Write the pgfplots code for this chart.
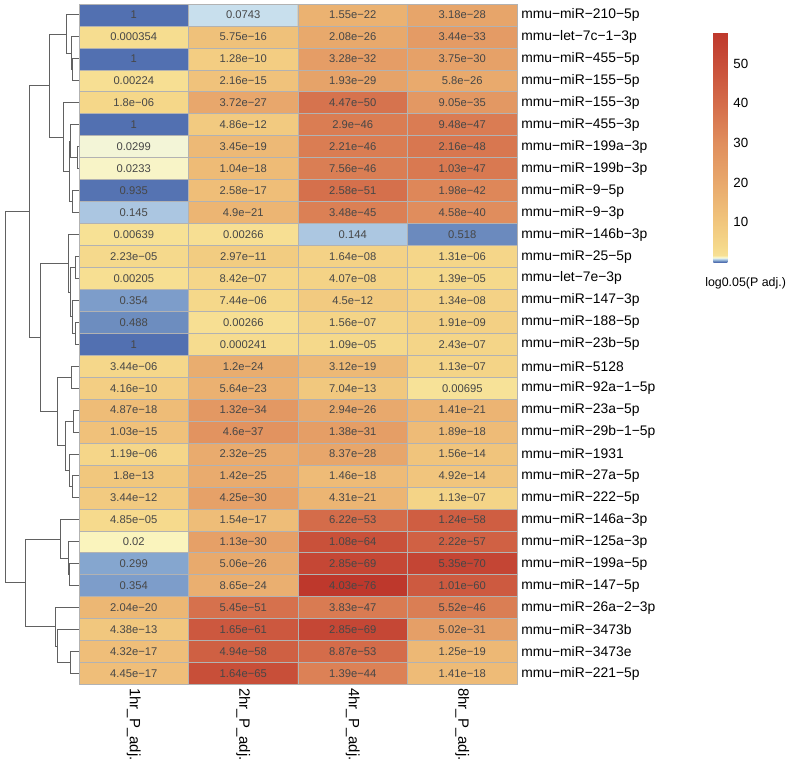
\documentclass[border=0pt]{standalone}
\usepackage{pgfplots}
\usepackage{pgfplotstable}
\pgfplotsset{compat=1.18}
\usepackage{fontspec}
\setmainfont{Liberation Sans}

\pgfplotstableread{
x y p lbl
0 0 1 1
1 0 0.0743 0.0743
2 0 1.55e-22 1.55e−22
3 0 3.18e-28 3.18e−28
0 1 0.000354 0.000354
1 1 5.75e-16 5.75e−16
2 1 2.08e-26 2.08e−26
3 1 3.44e-33 3.44e−33
0 2 1 1
1 2 1.28e-10 1.28e−10
2 2 3.28e-32 3.28e−32
3 2 3.75e-30 3.75e−30
0 3 0.00224 0.00224
1 3 2.16e-15 2.16e−15
2 3 1.93e-29 1.93e−29
3 3 5.8e-26 5.8e−26
0 4 1.8e-06 1.8e−06
1 4 3.72e-27 3.72e−27
2 4 4.47e-50 4.47e−50
3 4 9.05e-35 9.05e−35
0 5 1 1
1 5 4.86e-12 4.86e−12
2 5 2.9e-46 2.9e−46
3 5 9.48e-47 9.48e−47
0 6 0.0299 0.0299
1 6 3.45e-19 3.45e−19
2 6 2.21e-46 2.21e−46
3 6 2.16e-48 2.16e−48
0 7 0.0233 0.0233
1 7 1.04e-18 1.04e−18
2 7 7.56e-46 7.56e−46
3 7 1.03e-47 1.03e−47
0 8 0.935 0.935
1 8 2.58e-17 2.58e−17
2 8 2.58e-51 2.58e−51
3 8 1.98e-42 1.98e−42
0 9 0.145 0.145
1 9 4.9e-21 4.9e−21
2 9 3.48e-45 3.48e−45
3 9 4.58e-40 4.58e−40
0 10 0.00639 0.00639
1 10 0.00266 0.00266
2 10 0.144 0.144
3 10 0.518 0.518
0 11 2.23e-05 2.23e−05
1 11 2.97e-11 2.97e−11
2 11 1.64e-08 1.64e−08
3 11 1.31e-06 1.31e−06
0 12 0.00205 0.00205
1 12 8.42e-07 8.42e−07
2 12 4.07e-08 4.07e−08
3 12 1.39e-05 1.39e−05
0 13 0.354 0.354
1 13 7.44e-06 7.44e−06
2 13 4.5e-12 4.5e−12
3 13 1.34e-08 1.34e−08
0 14 0.488 0.488
1 14 0.00266 0.00266
2 14 1.56e-07 1.56e−07
3 14 1.91e-09 1.91e−09
0 15 1 1
1 15 0.000241 0.000241
2 15 1.09e-05 1.09e−05
3 15 2.43e-07 2.43e−07
0 16 3.44e-06 3.44e−06
1 16 1.2e-24 1.2e−24
2 16 3.12e-19 3.12e−19
3 16 1.13e-07 1.13e−07
0 17 4.16e-10 4.16e−10
1 17 5.64e-23 5.64e−23
2 17 7.04e-13 7.04e−13
3 17 0.00695 0.00695
0 18 4.87e-18 4.87e−18
1 18 1.32e-34 1.32e−34
2 18 2.94e-26 2.94e−26
3 18 1.41e-21 1.41e−21
0 19 1.03e-15 1.03e−15
1 19 4.6e-37 4.6e−37
2 19 1.38e-31 1.38e−31
3 19 1.89e-18 1.89e−18
0 20 1.19e-06 1.19e−06
1 20 2.32e-25 2.32e−25
2 20 8.37e-28 8.37e−28
3 20 1.56e-14 1.56e−14
0 21 1.8e-13 1.8e−13
1 21 1.42e-25 1.42e−25
2 21 1.46e-18 1.46e−18
3 21 4.92e-14 4.92e−14
0 22 3.44e-12 3.44e−12
1 22 4.25e-30 4.25e−30
2 22 4.31e-21 4.31e−21
3 22 1.13e-07 1.13e−07
0 23 4.85e-05 4.85e−05
1 23 1.54e-17 1.54e−17
2 23 6.22e-53 6.22e−53
3 23 1.24e-58 1.24e−58
0 24 0.02 0.02
1 24 1.13e-30 1.13e−30
2 24 1.08e-64 1.08e−64
3 24 2.22e-57 2.22e−57
0 25 0.299 0.299
1 25 5.06e-26 5.06e−26
2 25 2.85e-69 2.85e−69
3 25 5.35e-70 5.35e−70
0 26 0.354 0.354
1 26 8.65e-24 8.65e−24
2 26 4.03e-76 4.03e−76
3 26 1.01e-60 1.01e−60
0 27 2.04e-20 2.04e−20
1 27 5.45e-51 5.45e−51
2 27 3.83e-47 3.83e−47
3 27 5.52e-46 5.52e−46
0 28 4.38e-13 4.38e−13
1 28 1.65e-61 1.65e−61
2 28 2.85e-69 2.85e−69
3 28 5.02e-31 5.02e−31
0 29 4.32e-17 4.32e−17
1 29 4.94e-58 4.94e−58
2 29 8.87e-53 8.87e−53
3 29 1.25e-19 1.25e−19
0 30 4.45e-17 4.45e−17
1 30 1.64e-65 1.64e−65
2 30 1.39e-44 1.39e−44
3 30 1.41e-18 1.41e−18
}\cells

\pgfplotsset{
  colormap={pval}{
    rgb255(0pt)=(82,112,177);
    rgb255(0.25pt)=(110,142,192);
    rgb255(0.4pt)=(133,166,207);
    rgb255(0.65pt)=(172,199,225);
    rgb255(0.87pt)=(200,223,237);
    rgb255(1pt)=(230,240,228);
    rgb255(1.17pt)=(243,245,215);
    rgb255(1.3pt)=(250,244,190);
    rgb255(1.7pt)=(247,224,148);
    rgb255(4pt)=(245,216,138);
    rgb255(10pt)=(241,198,125);
    rgb255(20pt)=(232,168,108);
    rgb255(30pt)=(224,142,93);
    rgb255(40pt)=(212,108,74);
    rgb255(50pt)=(200,78,57);
    rgb255(57.95pt)=(190,56,44)
  }
}

\begin{document}
\begin{tikzpicture}
\useasboundingbox (0,0) rectangle (590.25pt,573.75pt);
% dendrogram
\begin{axis}[
  at={(0pt,60.375pt)}, anchor=south west,
  width=59.25pt, height=510.375pt, scale only axis,
  xmin=0, xmax=79, ymin=-0.5, ymax=30.5, y dir=reverse,
  hide axis, clip=false, unbounded coords=jump,
]
\addplot[black!62, line width=0.75pt] coordinates {
(79,2) (72.7,2) (72.7,3) (79,3) (nan,nan)
(79,1) (71.7,1) (71.7,2.5) (72.7,2.5) (nan,nan)
(79,0) (66.7,0) (66.7,1.75) (71.7,1.75) (nan,nan)
(79,6) (77.7,6) (77.7,7) (79,7) (nan,nan)
(79,5) (71,5) (71,6.5) (77.7,6.5) (nan,nan)
(79,8) (72.7,8) (72.7,9) (79,9) (nan,nan)
(71,5.75) (70,5.75) (70,8.5) (72.7,8.5) (nan,nan)
(79,4) (63.3,4) (63.3,7.125) (70,7.125) (nan,nan)
(66.7,0.875) (50,0.875) (50,5.5625) (63.3,5.5625) (nan,nan)
(79,11) (76,11) (76,12) (79,12) (nan,nan)
(79,14) (76,14) (76,15) (79,15) (nan,nan)
(79,13) (73,13) (73,14.5) (76,14.5) (nan,nan)
(76,11.5) (71,11.5) (71,13.75) (73,13.75) (nan,nan)
(79,10) (68.3,10) (68.3,12.625) (71,12.625) (nan,nan)
(79,16) (71.7,16) (71.7,17) (79,17) (nan,nan)
(79,18) (74,18) (74,19) (79,19) (nan,nan)
(79,21) (72.7,21) (72.7,22) (79,22) (nan,nan)
(79,20) (69.3,20) (69.3,21.5) (72.7,21.5) (nan,nan)
(74,18.5) (65.3,18.5) (65.3,20.75) (69.3,20.75) (nan,nan)
(71.7,16.5) (57.3,16.5) (57.3,19.625) (65.3,19.625) (nan,nan)
(68.3,11.3125) (41,11.3125) (41,18.0625) (57.3,18.0625) (nan,nan)
(50,3.21875) (29.3,3.21875) (29.3,14.6875) (41,14.6875) (nan,nan)
(79,25) (70,25) (70,26) (79,26) (nan,nan)
(79,24) (68.3,24) (68.3,25.5) (70,25.5) (nan,nan)
(79,23) (60.3,23) (60.3,24.75) (68.3,24.75) (nan,nan)
(79,29) (70.3,29) (70.3,30) (79,30) (nan,nan)
(79,28) (57.7,28) (57.7,29.5) (70.3,29.5) (nan,nan)
(79,27) (55.3,27) (55.3,28.75) (57.7,28.75) (nan,nan)
(60.3,23.875) (26,23.875) (26,27.875) (55.3,27.875) (nan,nan)
(29.3,8.953) (5.3,8.953) (5.3,25.875) (26,25.875)
};
\end{axis}
% heatmap
\begin{axis}[
  name=main,
  at={(59.25pt,60.375pt)}, anchor=south west,
  width=328.5pt, height=510.375pt, scale only axis,
  xmin=-0.5, xmax=3.5, ymin=-0.5, ymax=30.5, y dir=reverse,
  xtick={0,1,2,3},
  xticklabels={1hr\_P\_adj., 2hr\_P\_adj., 4hr\_P\_adj., 8hr\_P\_adj.},
  xticklabel style={rotate=-90, anchor=west, inner xsep=2.6pt, inner ysep=0pt,
    font=\fontsize{11.2}{13}\selectfont},
  ytick={0,...,30},
  yticklabels={mmu−miR−210−5p, mmu−let−7c−1−3p, mmu−miR−455−5p, mmu−miR−155−5p,
    mmu−miR−155−3p, mmu−miR−455−3p, mmu−miR−199a−3p, mmu−miR−199b−3p, mmu−miR−9−5p,
    mmu−miR−9−3p, mmu−miR−146b−3p, mmu−miR−25−5p, mmu−let−7e−3p, mmu−miR−147−3p,
    mmu−miR−188−5p, mmu−miR−23b−5p, mmu−miR−5128, mmu−miR−92a−1−5p, mmu−miR−23a−5p,
    mmu−miR−29b−1−5p, mmu−miR−1931, mmu−miR−27a−5p, mmu−miR−222−5p, mmu−miR−146a−3p,
    mmu−miR−125a−3p, mmu−miR−199a−5p, mmu−miR−147−5p, mmu−miR−26a−2−3p, mmu−miR−3473b,
    mmu−miR−3473e, mmu−miR−221−5p},
  yticklabel pos=right,
  yticklabel style={anchor=west, inner xsep=3pt, inner ysep=0pt,
    font=\fontsize{10.4}{12}\selectfont},
  major tick length=0pt, tick style={draw=none},
  minor xtick={0.5,1.5,2.5},
  minor ytick={0.5,1.5,...,29.5},
  minor tick length=0pt,
  grid=minor, minor grid style={draw=black!30, line width=0.5pt},
  axis line style={draw=black!30, line width=0.5pt},
  axis on top,
  colormap name=pval,
  point meta min=0, point meta max=57.95,
  colorbar,
  colorbar style={
    at={(parent axis.north east)}, anchor=north west,
    xshift=138.75pt, yshift=-21pt,
    width=10.5pt, height=172.5pt,
    ytick={10,20,30,40,50},
    axis line style={draw=none},
    major tick length=0pt, tick style={draw=none},
    yticklabel style={font=\fontsize{10}{12}\selectfont, inner xsep=0pt, xshift=4.3pt},
    /pgf/number format/assume math mode=true,
  },
]
\addplot[matrix plot*, mesh/cols=4, mesh/rows=31,
  point meta={ln(\thisrow{p})/ln(0.05)}] table[x=x, y=y] {\cells};
\addplot[draw=none, mark=none,
  point meta=explicit symbolic,
  nodes near coords, nodes near coords align=center,
  nodes near coords style={font=\fontsize{8.4}{10}\selectfont, text=black!72, anchor=center, inner sep=0pt}]
  table[x=x, y=y, meta=lbl] {\cells};
\end{axis}
\node[anchor=west, font=\fontsize{9.3}{11}\selectfont, inner sep=0pt] at (528.75pt,361.5pt) {log0.05(P adj.)};
\end{tikzpicture}
\end{document}
